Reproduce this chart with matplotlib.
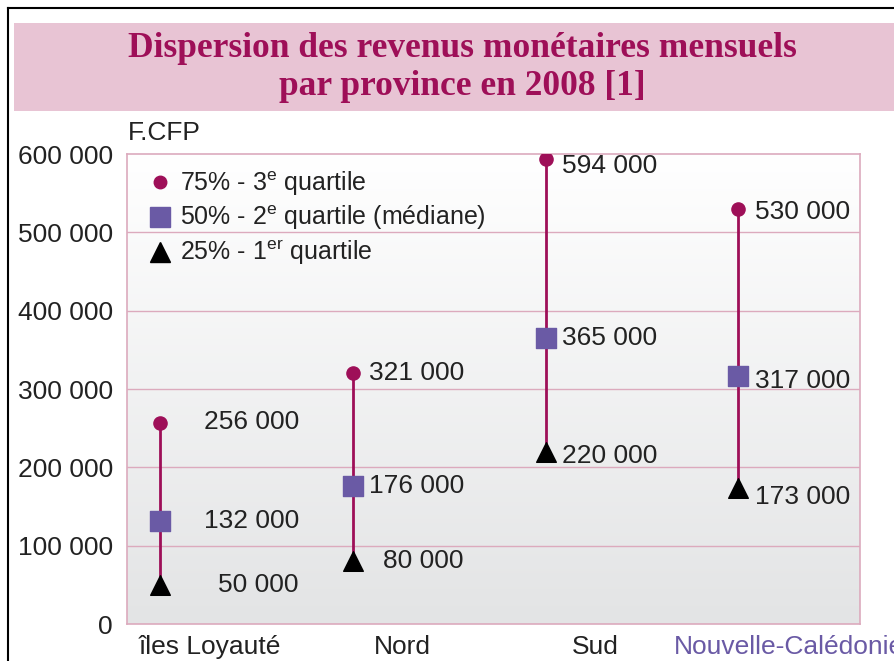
from matplotlib import pyplot as plt
from matplotlib.lines import Line2D
from matplotlib.patches import Rectangle
from matplotlib.colors import LinearSegmentedColormap
from matplotlib.transforms import ScaledTranslation
import numpy as np

provinces = ['îles Loyauté', 'Nord', 'Sud', 'Nouvelle-Calédonie']
q1 = [50000, 80000, 220000, 173000]
q2 = [132000, 176000, 365000, 317000]
q3 = [256000, 321000, 594000, 530000]
yticks = [0, 100000, 200000, 300000, 400000, 500000, 600000]

plt.rcParams['font.family'] = ['Liberation Sans', 'DejaVu Sans']

crimson = '#9e0f58'
purple = '#6a5aa5'
grid_pink = '#dcaabd'
txt = '#222222'

fig = plt.figure(figsize=(8.94, 6.61), dpi=100)
W, H = 894, 661

# frame and title band
fig.add_artist(Line2D([8 / W, 8 / W], [0, 1 - 8 / H], color='black', lw=1.5))
fig.add_artist(Line2D([8 / W, 1], [1 - 8 / H, 1 - 8 / H], color='black', lw=1.5))
fig.add_artist(Rectangle((14 / W, 1 - 111 / H), 1 - 14 / W, 88 / H,
                         facecolor='#e8c4d4', edgecolor='none'))
fig.text(462 / W, 1 - 57 / H, 'Dispersion des revenus monétaires mensuels',
         ha='center', va='baseline', fontsize=25.5, fontweight='bold', color=crimson,
         family='Liberation Serif')
fig.text(462 / W, 1 - 95 / H, 'par province en 2008 [1]',
         ha='center', va='baseline', fontsize=25.5, fontweight='bold', color=crimson,
         family='Liberation Serif')

ax = fig.add_axes([127 / W, 1 - 624 / H, 733 / W, 470 / H])

# vertical gradient background
grad = np.linspace(0, 1, 256).reshape(-1, 1)
ax.imshow(grad, extent=[-0.17, 3.63, 0, 600000], aspect='auto', origin='lower',
          cmap=LinearSegmentedColormap.from_list('bg', ['#e3e4e5', '#ffffff']),
          zorder=0)

x = np.arange(len(provinces))
for yt in yticks[1:-1]:
    ax.axhline(yt, color=grid_pink, lw=1, zorder=1)
ax.vlines(x, q1, q3, color=crimson, lw=2, zorder=2)
ax.scatter(x, q3, marker='o', s=90, color=crimson, zorder=3)
ax.scatter(x, q2, marker='s', s=200, color=purple, zorder=3)
ax.scatter(x, q1, marker='^', s=200, color='black', zorder=3)

fmt = lambda v: f'{v:,}'.replace(',', ' ')
offsets = {0: (32, 32, 42), 1: (12, 12, 22), 2: (12, 12, 12), 3: (12, 12, 12)}
dy = {0: (1, 0, 0), 1: (0, 0, 0), 2: (-5, 0, -3), 3: (-2, -4, -6)}
for i in x:
    for j, vals in enumerate((q3, q2, q1)):
        ax.annotate(fmt(vals[i]), (i, vals[i]), xytext=(offsets[i][j], dy[i][j]),
                    textcoords='offset points', ha='left', va='center',
                    fontsize=19, color=txt, zorder=4)

ax.set_xlim(-0.17, 3.63)
ax.set_ylim(0, 600000)
ax.set_yticks(yticks)
ax.set_yticklabels([fmt(v) for v in yticks])
ax.set_xticks(x)
ax.set_xticklabels(provinces)
ax.tick_params(length=0, labelsize=19, labelcolor=txt)
ax.tick_params(axis='y', pad=10)
ax.tick_params(axis='x', pad=8)
# category labels sit to the right of their markers
shift = ScaledTranslation(50 / 100, 0, fig.dpi_scale_trans)
for lab in ax.get_xticklabels():
    lab.set_transform(lab.get_transform() + shift)
ax.get_xticklabels()[-1].set_color(purple)
for s in ax.spines.values():
    s.set_color(grid_pink)
    s.set_linewidth(1.2)

fig.text(128 / W, 1 - 133 / H, 'F.CFP', fontsize=19, color=txt, va='center', ha='left')

handles = [
    Line2D([], [], marker='o', color=crimson, ls='none', markersize=9),
    Line2D([], [], marker='s', color=purple, ls='none', markersize=14),
    Line2D([], [], marker='^', color='black', ls='none', markersize=14),
]
labels = ['75% - 3$^\\mathregular{e}$ quartile',
          '50% - 2$^\\mathregular{e}$ quartile (médiane)',
          '25% - 1$^\\mathregular{er}$ quartile']
ax.legend(handles, labels, loc='upper left', frameon=False, fontsize=18,
          handletextpad=0.1, handlelength=1.4, labelspacing=0.25,
          borderaxespad=0.2, labelcolor=txt)

plt.savefig('out.png', dpi=100)
